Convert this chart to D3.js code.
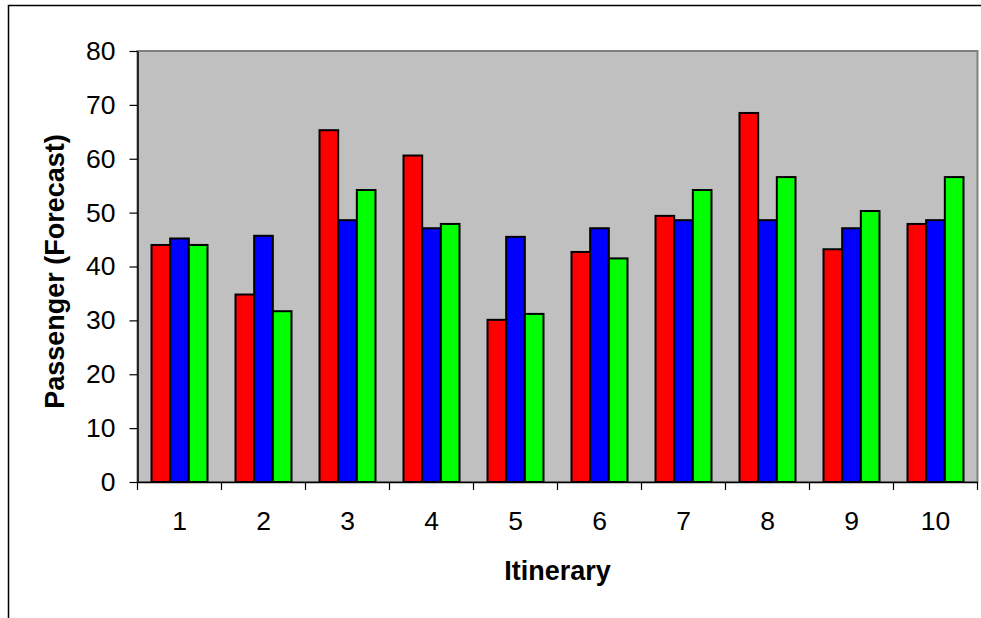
<!DOCTYPE html>
<html>
<head>
<meta charset="utf-8">
<script src="https://cdn.jsdelivr.net/npm/d3@7"></script>
<style>
  html, body { margin: 0; padding: 0; background: #fff; }
  svg { display: block; font-family: "Liberation Sans", Arial, sans-serif; }
</style>
</head>
<body>
<svg id="chart" width="981" height="618"></svg>
<script>
// Itinerary categories and forecast passenger counts for the three series
const itineraries = ["1", "2", "3", "4", "5", "6", "7", "8", "9", "10"];
const seriesNames = ["A", "B", "C"];
const seriesRed   = [44.0, 34.8, 65.3, 60.6, 30.1, 42.7, 49.4, 68.5, 43.2, 47.9];
const seriesBlue  = [45.2, 45.7, 48.6, 47.1, 45.5, 47.1, 48.6, 48.6, 47.1, 48.6];
const seriesGreen = [44.0, 31.7, 54.2, 47.9, 31.2, 41.5, 54.2, 56.6, 50.3, 56.6];
const seriesColors = ["#FF0000", "#0000FF", "#00FF00"];
const yTicks = [0, 10, 20, 30, 40, 50, 60, 70, 80];

const allSeries = [seriesRed, seriesBlue, seriesGreen];

const svg = d3.select("#chart");
const plot = { left: 137.5, right: 977.5, top: 51, bottom: 482 };

// Outer chart frame (continues past the right and bottom edges)
svg.append("rect")
  .attr("x", 8.5).attr("y", 5.5)
  .attr("width", 1000).attr("height", 700)
  .attr("fill", "#fff").attr("stroke", "#000").attr("stroke-width", 1.5);

const x = d3.scaleBand().domain(itineraries)
  .range([plot.left, plot.right]).paddingInner(0).paddingOuter(0);
const xSub = d3.scaleBand().domain(seriesNames)
  .range([0, x.bandwidth()]).paddingInner(0).paddingOuter(0.75);
const y = d3.scaleLinear().domain([0, 80]).range([plot.bottom, plot.top]);

// Plot area
svg.append("rect")
  .attr("x", plot.left).attr("y", plot.top)
  .attr("width", plot.right - plot.left).attr("height", plot.bottom - plot.top)
  .attr("fill", "#C0C0C0").attr("stroke", "#808080").attr("stroke-width", 2);

// Bars
const groups = svg.append("g").selectAll("g")
  .data(itineraries)
  .join("g")
  .attr("transform", d => `translate(${x(d)},0)`);

groups.selectAll("rect")
  .data((d, i) => allSeries.map((s, k) => ({ key: seriesNames[k], value: s[i], color: seriesColors[k] })))
  .join("rect")
  .attr("x", d => xSub(d.key))
  .attr("y", d => y(d.value))
  .attr("width", xSub.bandwidth())
  .attr("height", d => y(0) - y(d.value))
  .attr("fill", d => d.color)
  .attr("stroke", "#000")
  .attr("stroke-width", 2);

// Y axis
const yAxis = svg.append("g")
  .attr("transform", `translate(${plot.left},0)`)
  .call(d3.axisLeft(y).tickValues(yTicks).tickSizeInner(8).tickSizeOuter(0).tickPadding(14));
yAxis.select(".domain").attr("stroke", "#000").attr("stroke-width", 1.5);
yAxis.selectAll(".tick line").attr("stroke", "#000").attr("stroke-width", 1.2);
yAxis.selectAll("text").attr("font-size", 26.5).attr("fill", "#000");

// X axis labels
const xAxis = svg.append("g")
  .attr("transform", `translate(0,${plot.bottom})`)
  .call(d3.axisBottom(x).tickSizeInner(0).tickSizeOuter(0).tickPadding(29));
xAxis.select(".domain").attr("stroke", "#000").attr("stroke-width", 1.5);
xAxis.selectAll("text").attr("font-size", 26.5).attr("fill", "#000");

// X tick marks at category boundaries
const boundaries = itineraries.map(d => x(d)).concat([plot.right]);
svg.append("g").selectAll("line")
  .data(boundaries)
  .join("line")
  .attr("x1", d => d).attr("x2", d => d)
  .attr("y1", plot.bottom).attr("y2", plot.bottom + 8)
  .attr("stroke", "#000").attr("stroke-width", 1.2);

// Axis titles
svg.append("text")
  .attr("x", (plot.left + plot.right) / 2)
  .attr("y", 580)
  .attr("text-anchor", "middle")
  .attr("font-size", 27).attr("font-weight", "bold")
  .text("Itinerary");

svg.append("text")
  .attr("transform", `translate(64,${(plot.top + plot.bottom) / 2 + 5}) rotate(-90)`)
  .attr("text-anchor", "middle")
  .attr("font-size", 27).attr("font-weight", "bold")
  .text("Passenger (Forecast)");
</script>
</body>
</html>
